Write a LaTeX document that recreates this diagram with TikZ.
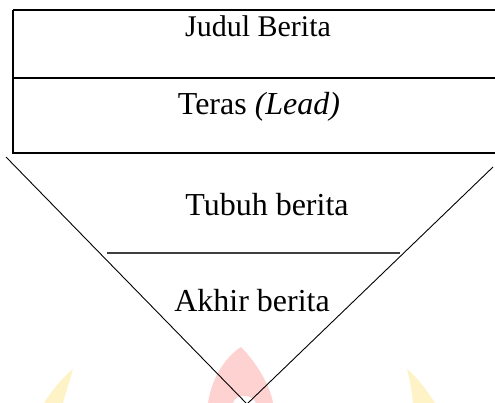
\documentclass[tikz,border=0pt]{standalone}
\usepackage{fontspec}
\setmainfont{Liberation Serif}
\begin{document}
\begin{tikzpicture}[x=1pt,y=-1pt,
  lbl/.style={font=\fontsize{32}{38}\selectfont, anchor=base, inner sep=0pt},
  boxline/.style={line width=2pt, black},
  vline/.style={line width=0.9pt, black},
  midline/.style={line width=1.3pt, black!75},
  wmred/.style={fill=red!45!pink!55, draw=none, opacity=0.55},
  wmyel/.style={fill=yellow!60!orange!35, draw=none, opacity=0.6}]
\useasboundingbox (0,0) rectangle (495,403);
\begin{scope}
\clip (0,0) rectangle (495,403);
% faint watermark shapes
\fill[wmred] (208,403) .. controls (212,375) and (228,355) .. (241,347)
  .. controls (256,362) and (270,385) .. (273,403) -- (256,403)
  .. controls (254,395) and (236,392) .. (233,403) -- cycle;
\fill[wmyel] (44,403) .. controls (52,390) and (64,376) .. (73,369)
  .. controls (70,380) and (66,392) .. (63,403) -- cycle;
\fill[wmyel] (413,403) .. controls (412,390) and (409,378) .. (407,369)
  .. controls (418,378) and (428,392) .. (435,403) -- cycle;
% box
\draw[boxline] (13,10) -- (498,10);
\draw[boxline] (13,10) -- (13,153) -- (498,153);
\draw[boxline] (13,78) -- (498,78);
% funnel
\coordinate (lt) at (6,157);
\coordinate (rt) at (493,167);
\coordinate (apex) at (247,404);
\draw[vline] (lt) -- (apex) -- (rt);
\coordinate (ml) at (107,253);
\coordinate (mr) at (400,253);
\draw[midline] (ml) -- (mr);
\end{scope}
\node[lbl, font=\fontsize{30}{36}\selectfont] (judul) at (258,37) {Judul Berita};
\node[lbl] (teras) at (259,115) {Teras \textit{(Lead)}};
\node[lbl] (tubuh) at (267,216) {Tubuh berita};
\node[lbl] (akhir) at (252,311) {Akhir berita};
\end{tikzpicture}
\end{document}
